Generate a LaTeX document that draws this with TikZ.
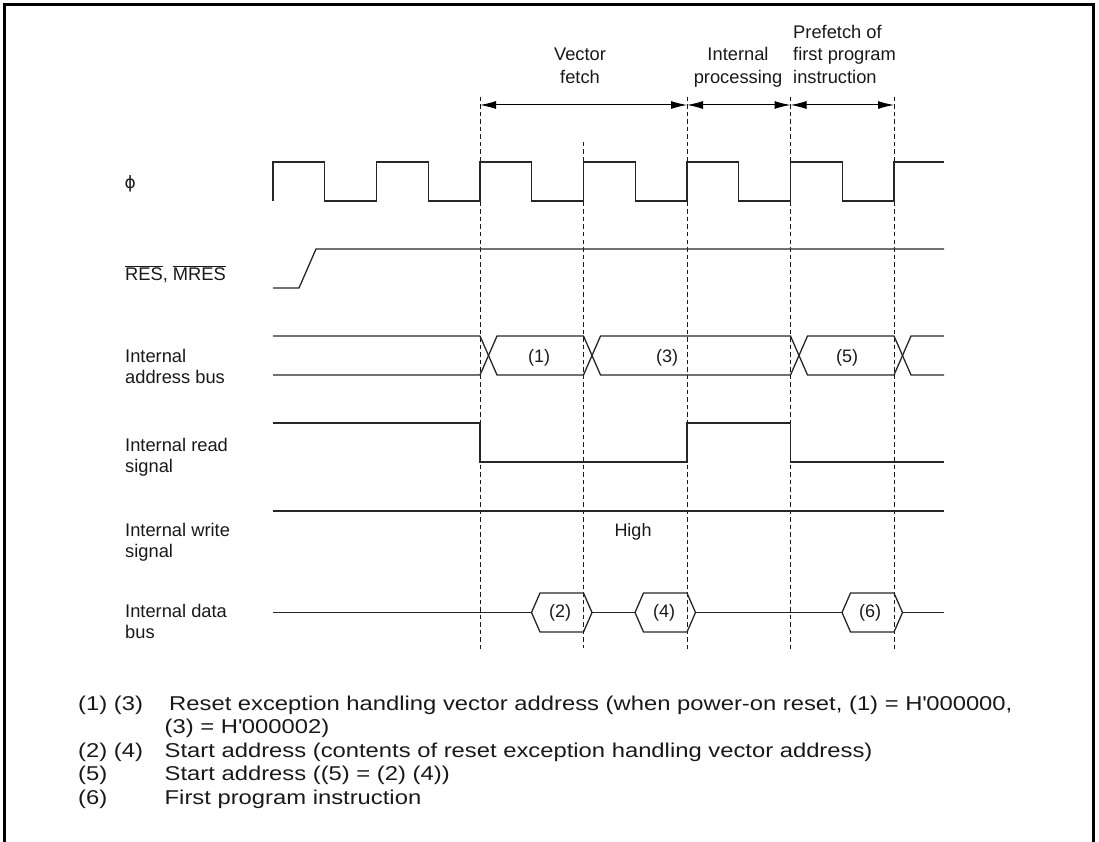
\documentclass[tikz,border=0pt]{standalone}
\usepackage{fontspec}
\setmainfont{Liberation Sans}
\newfontfamily\notefont[FakeStretch=1.19]{Liberation Sans}
\newfontfamily\glyphfont{DejaVu Sans}
\usetikzlibrary{arrows.meta}
\newcommand{\barsig}[1]{\ensuremath{\overline{\mbox{#1}}}}

\tikzset{
  sig/.style={black!85, line width=1.3pt},
  guide/.style={black!90, line width=0.8pt, dash pattern=on 4.5pt off 3pt},
  span/.style={line width=1pt, {Latex[length=16pt,width=8pt]}-{Latex[length=16pt,width=8pt]}},
  lbl/.style={anchor=base west, inner sep=0pt, align=left, text=black!90,
    font=\fontsize{18.3}{21}\selectfont},
  head/.style={anchor=base, inner sep=0pt, align=center, text=black!90,
    font=\fontsize{18.3}{22.3}\selectfont},
  val/.style={inner sep=0pt, text=black!90, font=\fontsize{18}{21}\selectfont},
  note/.style={anchor=base west, inner sep=0pt, align=left, text=black!90,
    font=\notefont\fontsize{20}{23.5}\selectfont}
}

\begin{document}
\begin{tikzpicture}[x=1pt,y=-1pt]
\useasboundingbox (0,0) rectangle (1099,842);
\draw[line width=2.6pt] (4.3,842) -- (4.3,4.3) -- (1093.7,4.3) -- (1093.7,842);

\node[head] (vf) at (580,83.3) {Vector\\fetch};
\node[head] (ip) at (738,83.3) {Internal\\processing};
\node[head, anchor=base west, align=left] (pf) at (793,83.3) {Prefetch of\\first program\\instruction};

\foreach \n/\x in {a/480,b/687,c/790.5,d/894} {
  \coordinate (m\n) at (\x,105);
  \draw[guide] (\x,97) -- (\x,652);
}
\draw[guide] (583.5,142) -- (583.5,648);
\draw[span] (ma) -- (mb);
\draw[span] (mb) -- (mc);
\draw[span] (mc) -- (md);

\node[lbl, font=\glyphfont\fontsize{17}{20}\selectfont] (phi) at (124.5,189) {ϕ};
\node[lbl] (res) at (125,280) {\barsig{RES}, \barsig{MRES}};
\node[lbl] (iab) at (125,383.3) {Internal\\address bus};
\node[lbl] (ird) at (125,472.7) {Internal read\\signal};
\node[lbl] (iwr) at (125,557) {Internal write\\signal};
\node[lbl] (idb) at (125,638) {Internal data\\bus};

\draw[sig] (273,201) \foreach \k in {1,...,6} {
  -- ++(0,-39) -- ++(51.75,0) -- ++(0,39) -- ++(51.75,0) } -- ++(0,-39) -- (944,162);
\draw[sig] (273,288) -- (299,288) -- (316,249) -- (944,249);

\draw[sig] (273,336) -- (480,336) -- (497,375) -- (583.5,375) -- (600.5,336) -- (790.5,336)
  -- (807.5,375) -- (894,375) -- (911,336) -- (944,336);
\draw[sig] (273,375) -- (480,375) -- (497,336) -- (583.5,336) -- (600.5,375) -- (790.5,375)
  -- (807.5,336) -- (894,336) -- (911,375) -- (944,375);
\node[val] (v1) at (539,357.5) {(1)};
\node[val] (v3) at (667,357.5) {(3)};
\node[val] (v5) at (847,357.5) {(5)};

\draw[sig] (273,423) -- (480,423) -- (480,462) -- (687,462) -- (687,423) -- (790.5,423)
  -- (790.5,462) -- (944,462);

\draw[sig] (273,511) -- (944,511);
\node[val, anchor=base] (hi) at (633,536.5) {High};

\draw[sig] (273,612.5) -- (531.5,612.5) (592,612.5) -- (635,612.5)
  (695.5,612.5) -- (842,612.5) (902.5,612.5) -- (944,612.5);
\foreach \x in {583.5,687,894}
  \draw[sig] ({\x-52},612.5) -- ({\x-43.5},593) -- (\x,593) -- ({\x+8.5},612.5)
    -- (\x,632) -- ({\x-43.5},632) -- cycle;
\node[val] (v2) at (560,612.5) {(2)};
\node[val] (v4) at (664,612.5) {(4)};
\node[val] (v6) at (870,612.5) {(6)};

\node[note] (k13) at (78,710) {(1) (3)};
\node[note] (t13) at (169,710) {Reset exception handling vector address (when power-on reset, (1) = H\textquotesingle 000000,};
\node[note] (t13b) at (164.5,733.5) {(3) = H\textquotesingle 000002)};
\node[note] (k24) at (78,757) {(2) (4)};
\node[note] (t24) at (164.5,757) {Start address (contents of reset exception handling vector address)};
\node[note] (k5) at (78,780.5) {(5)};
\node[note] (t5) at (164.5,780.5) {Start address ((5) = (2) (4))};
\node[note] (k6) at (78,804) {(6)};
\node[note] (t6) at (164.5,804) {First program instruction};
\end{tikzpicture}
\end{document}
